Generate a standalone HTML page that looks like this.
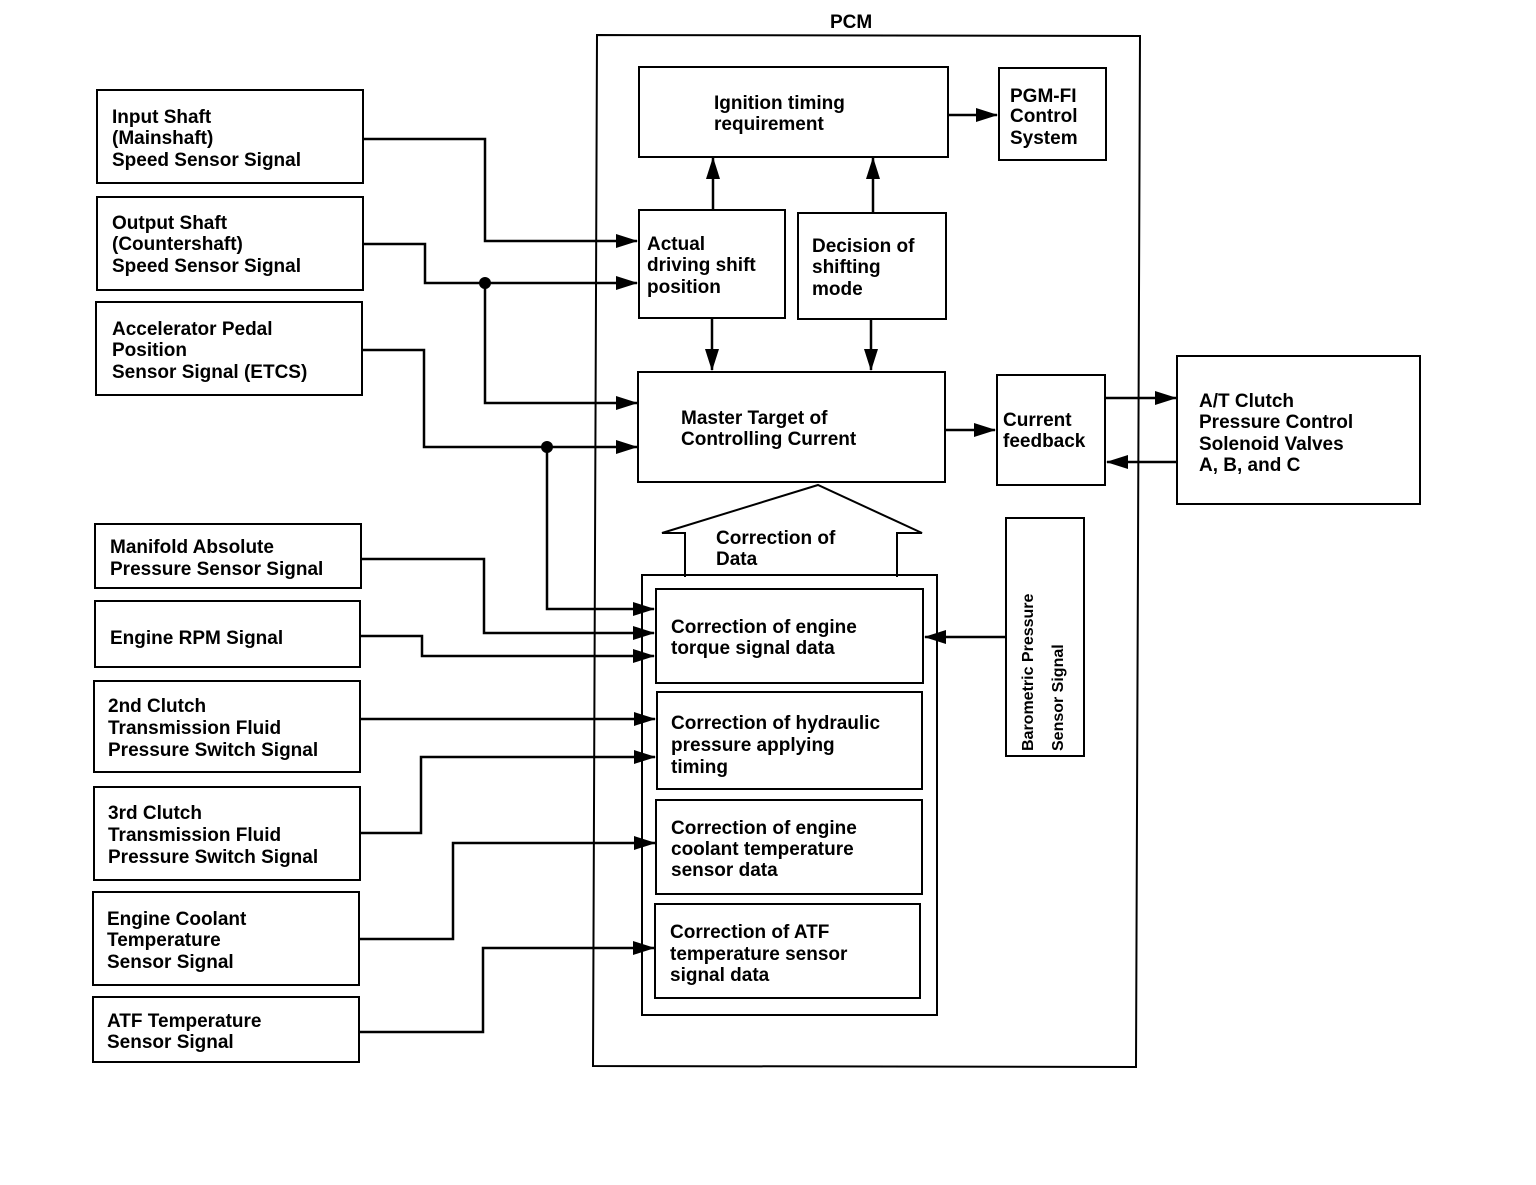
<!DOCTYPE html>
<html><head><meta charset="utf-8"><style>
body{margin:0;background:#fff}
svg text{font-family:"Liberation Sans",Arial,sans-serif;font-weight:bold;font-size:19px;fill:#000}
</style></head><body>
<svg width="1536" height="1180" viewBox="0 0 1536 1180" xmlns="http://www.w3.org/2000/svg">
<defs><marker id="a" markerWidth="10" markerHeight="10" refX="9" refY="5" orient="auto" markerUnits="userSpaceOnUse"><path d="M0,0 L10,5 L0,10 z" fill="#000"/></marker>
<marker id="b" markerWidth="22" markerHeight="14" refX="21" refY="7" orient="auto" markerUnits="userSpaceOnUse"><path d="M0,0 L22,7 L0,14 z" fill="#000"/></marker></defs>
<g fill="none" stroke="#000" stroke-width="2">
<polygon points="597,35 1140,36 1136,1067 593,1066"/>
<rect x="97" y="90" width="266" height="93"/>
<rect x="97" y="197" width="266" height="93"/>
<rect x="96" y="302" width="266" height="93"/>
<rect x="95" y="524" width="266" height="64"/>
<rect x="95" y="601" width="265" height="66"/>
<rect x="94" y="681" width="266" height="91"/>
<rect x="94" y="787" width="266" height="93"/>
<rect x="93" y="892" width="266" height="93"/>
<rect x="93" y="997" width="266" height="65"/>
<rect x="639" y="67" width="309" height="90"/>
<rect x="999" y="68" width="107" height="92"/>
<rect x="639" y="210" width="146" height="108"/>
<rect x="798" y="213" width="148" height="106"/>
<rect x="638" y="372" width="307" height="110"/>
<rect x="997" y="375" width="108" height="110"/>
<rect x="1177" y="356" width="243" height="148"/>
<polyline points="685,577 685,533 662,533 818,485 922,533 897,533 897,577"/>
<rect x="642" y="575" width="295" height="440"/>
<rect x="656" y="589" width="267" height="94"/>
<rect x="657" y="692" width="265" height="97"/>
<rect x="656" y="800" width="266" height="94"/>
<rect x="655" y="904" width="265" height="94"/>
<rect x="1006" y="518" width="78" height="238"/>
</g>
<g fill="none" stroke="#000" stroke-width="2.5">
<polyline points="363,139 485,139 485,241 637,241" marker-end="url(#b)"/>
<polyline points="363,244 425,244 425,283 637,283" marker-end="url(#b)"/>
<polyline points="485,283 485,403 637,403" marker-end="url(#b)"/>
<polyline points="362,350 424,350 424,447 637,447" marker-end="url(#b)"/>
<polyline points="547,447 547,609 654,609" marker-end="url(#b)"/>
<polyline points="361,559 484,559 484,633 654,633" marker-end="url(#b)"/>
<polyline points="360,636 422,636 422,656 654,656" marker-end="url(#b)"/>
<polyline points="360,719 655,719" marker-end="url(#b)"/>
<polyline points="360,833 421,833 421,757 655,757" marker-end="url(#b)"/>
<polyline points="359,939 453,939 453,843 655,843" marker-end="url(#b)"/>
<polyline points="359,1032 483,1032 483,948 654,948" marker-end="url(#b)"/>
<line x1="713" y1="210" x2="713" y2="158" marker-end="url(#b)"/>
<line x1="873" y1="213" x2="873" y2="158" marker-end="url(#b)"/>
<line x1="712" y1="318" x2="712" y2="370" marker-end="url(#b)"/>
<line x1="871" y1="319" x2="871" y2="370" marker-end="url(#b)"/>
<line x1="948" y1="115" x2="997" y2="115" marker-end="url(#b)"/>
<line x1="945" y1="430" x2="995" y2="430" marker-end="url(#b)"/>
<line x1="1105" y1="398" x2="1176" y2="398" marker-end="url(#b)"/>
<line x1="1177" y1="462" x2="1107" y2="462" marker-end="url(#b)"/>
<line x1="1006" y1="637" x2="925" y2="637" marker-end="url(#b)"/>
</g>
<circle cx="485" cy="283" r="6"/><circle cx="547" cy="447" r="6"/>
<text x="830" y="28">PCM</text>
<text x="112" y="123">Input Shaft</text><text x="112" y="144">(Mainshaft)</text><text x="112" y="166">Speed Sensor Signal</text>
<text x="112" y="229">Output Shaft</text><text x="112" y="250">(Countershaft)</text><text x="112" y="272">Speed Sensor Signal</text>
<text x="112" y="335">Accelerator Pedal</text><text x="112" y="356">Position</text><text x="112" y="378">Sensor Signal (ETCS)</text>
<text x="110" y="553">Manifold Absolute</text><text x="110" y="575">Pressure Sensor Signal</text>
<text x="110" y="644">Engine RPM Signal</text>
<text x="108" y="712">2nd Clutch</text><text x="108" y="734">Transmission Fluid</text><text x="108" y="756">Pressure Switch Signal</text>
<text x="108" y="819">3rd Clutch</text><text x="108" y="841">Transmission Fluid</text><text x="108" y="863">Pressure Switch Signal</text>
<text x="107" y="925">Engine Coolant</text><text x="107" y="946">Temperature</text><text x="107" y="968">Sensor Signal</text>
<text x="107" y="1027">ATF Temperature</text><text x="107" y="1048">Sensor Signal</text>
<text x="714" y="109">Ignition timing</text><text x="714" y="130">requirement</text>
<text x="1010" y="102">PGM-FI</text><text x="1010" y="122">Control</text><text x="1010" y="144">System</text>
<text x="647" y="250">Actual</text><text x="647" y="271">driving shift</text><text x="647" y="293">position</text>
<text x="812" y="252">Decision of</text><text x="812" y="273">shifting</text><text x="812" y="295">mode</text>
<text x="681" y="424">Master Target of</text><text x="681" y="445">Controlling Current</text>
<text x="1003" y="426">Current</text><text x="1003" y="447">feedback</text>
<text x="1199" y="407">A/T Clutch</text><text x="1199" y="428">Pressure Control</text><text x="1199" y="450">Solenoid Valves</text><text x="1199" y="471">A, B, and C</text>
<text x="716" y="544">Correction of</text><text x="716" y="565">Data</text>
<text x="671" y="633">Correction of engine</text><text x="671" y="654">torque signal data</text>
<text x="671" y="729">Correction of hydraulic</text><text x="671" y="751">pressure applying</text><text x="671" y="773">timing</text>
<text x="671" y="834">Correction of engine</text><text x="671" y="855">coolant temperature</text><text x="671" y="876">sensor data</text>
<text x="670" y="938">Correction of ATF</text><text x="670" y="960">temperature sensor</text><text x="670" y="981">signal data</text>
<text transform="translate(1033,751) rotate(-90)" style="font-size:16px">Barometric Pressure</text>
<text transform="translate(1063,751) rotate(-90)" style="font-size:16px">Sensor Signal</text>
</svg>
</body></html>
